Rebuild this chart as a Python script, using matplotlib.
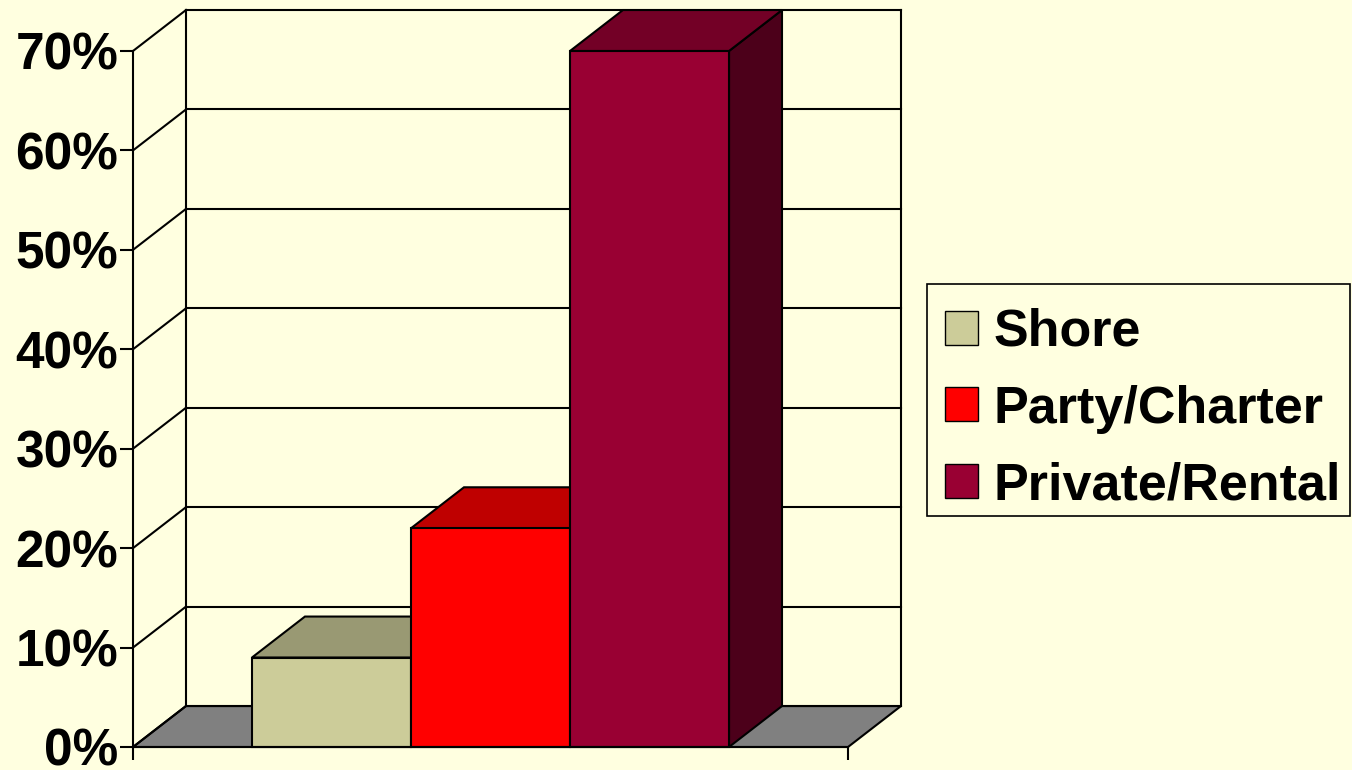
import matplotlib.pyplot as plt
from matplotlib.patches import Polygon, Patch, Rectangle

plt.rcParams['font.family'] = ['Liberation Sans', 'DejaVu Sans']
plt.rcParams['font.weight'] = 'bold'

# share of trips by fishing mode (%)
modes = ['Shore', 'Party/Charter', 'Private/Rental']
shares = [9, 22, 70]
yticks = [0, 10, 20, 30, 40, 50, 60, 70]

front_colors = ['#CCCC99', '#FF0000', '#990033']
top_colors = ['#999973', '#BF0000', '#730026']
side_colors = ['#999973', '#A00000', '#4C001A']

BG = '#FFFFE0'
FLOOR = '#808080'

# 3-D look: depth offset in data units
DX = 0.0741
DY = 4.12
BAR_W = 0.2224
LW = 1.5

W, H = 1352, 770
fig = plt.figure(figsize=(W / 100, H / 100), dpi=100, facecolor=BG)
ax = fig.add_axes([0, 0, 1, 1])
ax.set_facecolor(BG)
ax.set_xlim(-133 / 715, (W - 133) / 715)
ax.set_ylim(-23 / 9.943, 747 / 9.943)

top = yticks[-1]

# floor
ax.add_patch(Polygon([(0, 0), (1, 0), (1 + DX, DY), (DX, DY)], closed=True,
                     facecolor=FLOOR, edgecolor='black', lw=LW, zorder=1))

# back wall gridlines and side wall lines
for t in yticks:
    ax.plot([DX, 1 + DX], [t + DY, t + DY], color='black', lw=LW, zorder=1.2)
    ax.plot([0, DX], [t, t + DY], color='black', lw=LW, zorder=1.2)
ax.plot([DX, DX], [DY, top + DY], color='black', lw=LW, zorder=1.2)
ax.plot([1 + DX, 1 + DX], [DY, top + DY], color='black', lw=LW, zorder=1.2)

# bars, left to right so later ones hide the earlier side faces
n = len(shares)
for i, v in enumerate(shares):
    x0 = 0.5 + (i - n / 2) * BAR_W
    x1 = x0 + BAR_W
    z = 2 + i
    ax.add_patch(Polygon([(x1, 0), (x1 + DX, DY), (x1 + DX, v + DY), (x1, v)],
                         facecolor=side_colors[i], edgecolor='black', lw=LW, zorder=z))
    ax.add_patch(Polygon([(x0, v), (x1, v), (x1 + DX, v + DY), (x0 + DX, v + DY)],
                         facecolor=top_colors[i], edgecolor='black', lw=LW, zorder=z))
    ax.add_patch(Polygon([(x0, 0), (x1, 0), (x1, v), (x0, v)],
                         facecolor=front_colors[i], edgecolor='black', lw=LW, zorder=z))

# axes
for s in ['top', 'right']:
    ax.spines[s].set_visible(False)
ax.spines['left'].set_position(('data', 0))
ax.spines['left'].set_bounds(0, top)
ax.spines['bottom'].set_position(('data', 0))
ax.spines['bottom'].set_bounds(0, 1)
for s in ['left', 'bottom']:
    ax.spines[s].set_linewidth(LW)
    ax.spines[s].set_zorder(10)

ax.set_yticks(yticks)
ax.set_yticklabels([f'{t}%' for t in yticks], fontsize=37, fontweight='bold')
ax.set_xticks([0, 1])
ax.set_xticklabels([])
ax.tick_params(axis='both', direction='out', length=9.5, width=LW, pad=1.0)

# legend box drawn separately so its padding is not tied to the font size
ax.add_patch(Rectangle((927 / W, 1 - 516 / H), 423 / W, 232 / H,
                       transform=fig.transFigure, facecolor=BG, clip_on=False,
                       edgecolor='black', lw=1.2, zorder=20))
handles = [Patch(facecolor=c, edgecolor='black', lw=1) for c in front_colors]
leg = ax.legend(handles, modes, loc='upper left', bbox_to_anchor=(945 / W, 1 - 308 / H),
                bbox_transform=fig.transFigure,
                prop={'family': 'Liberation Sans', 'weight': 'bold', 'size': 37.5},
                frameon=False, handlelength=0.63, handleheight=0.63,
                handletextpad=0.31, labelspacing=0.53, borderpad=0,
                borderaxespad=0)
leg.set_zorder(21)

fig.savefig('out.png', dpi=100, facecolor=BG)
